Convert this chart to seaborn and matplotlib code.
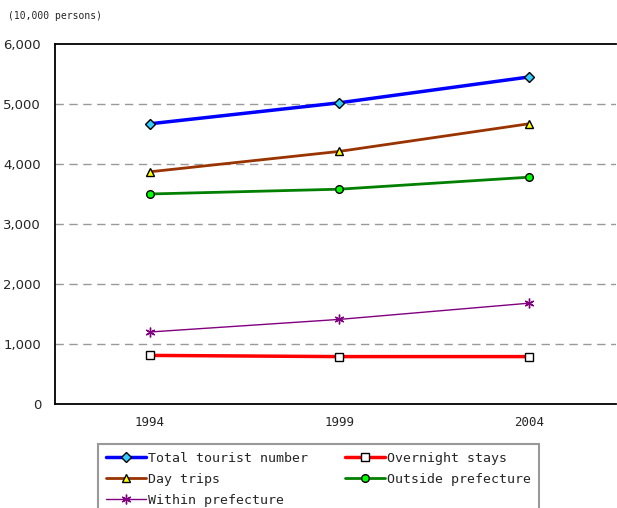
import matplotlib
matplotlib.use("Agg")
import matplotlib.pyplot as plt
import numpy as np
import pandas as pd
import seaborn as sns

years = ["1994", "1999", "2004"]
total = [4670, 5020, 5450]
day_trips = [3870, 4210, 4670]
outside = [3500, 3580, 3780]
within = [1200, 1410, 1680]
overnight = [810, 790, 790]
yticks = [0, 1000, 2000, 3000, 4000, 5000, 6000]

sns.set_style("white")
plt.rcParams["font.family"] = ["DejaVu Sans Mono", "DejaVu Sans"]

fig = plt.figure(figsize=(6.17, 5.08), dpi=100)
ax = fig.add_axes([55 / 617, 104 / 508, 561 / 617, 360 / 508])

xs = np.arange(len(years))
series = [
    ("Total tourist number", total, "#0000FF", 2.5, "D", "#33CCFF", 5),
    ("Day trips", day_trips, "#993300", 2.0, "^", "#FFFF00", 6),
    ("Within prefecture", within, "#800080", 1.0, (6, 2, 0), "#800080", 7),
    ("Overnight stays", overnight, "#FF0000", 2.5, "s", "#FFFFFF", 5.5),
    ("Outside prefecture", outside, "#008000", 2.0, "o", "#00FF00", 5.5),
]
for name, vals, col, lw, mk, fc, ms in series:
    df = pd.DataFrame({"x": xs, "y": vals})
    ec = col if name == "Within prefecture" else "black"
    sns.lineplot(data=df, x="x", y="y", ax=ax, color=col, linewidth=lw,
                 marker=mk, markersize=ms, markerfacecolor=fc,
                 markeredgecolor=ec, markeredgewidth=1.0, label=name,
                 legend=False)

ax.set_xlim(-0.5, 2.46)
ax.set_ylim(0, 6000)
ax.set_xticks(xs)
ax.set_xticklabels(years)
ax.set_xticks([0.5, 1.5], minor=True)
ax.tick_params(axis="x", which="major", length=0, pad=9, labelsize=9)
ax.tick_params(axis="x", which="minor", length=4, direction="in", width=1)
ax.set_yticks(yticks)
ax.set_yticklabels([f"{v:,}" for v in yticks], fontsize=9.5, family="DejaVu Sans")
ax.tick_params(axis="y", length=0, pad=10)
for v in yticks[1:-1]:
    ax.axhline(v, color="#999999", linestyle=(0, (6, 4)), linewidth=1, zorder=0)
ax.set_xlabel("")
ax.set_ylabel("")
for s in ["left", "bottom", "top"]:
    ax.spines[s].set_color("black")
    ax.spines[s].set_linewidth(1.3)
ax.spines["right"].set_visible(False)

fig.text(8 / 617, 1 - 16 / 508, "(10,000 persons)", fontsize=7, va="center")

h, l = ax.get_legend_handles_labels()
leg = fig.legend(h, l, ncol=2, loc="upper left",
                 bbox_to_anchor=(98 / 617, 1 - 444 / 508),
                 fontsize=9.5, frameon=True, fancybox=False,
                 handlelength=3.0, handletextpad=0.2, columnspacing=2.8,
                 labelspacing=0.6, borderpad=0.6, borderaxespad=0)
leg.get_frame().set_edgecolor("#808080")
leg.get_frame().set_linewidth(1.5)

fig.savefig("out.png", dpi=100)
